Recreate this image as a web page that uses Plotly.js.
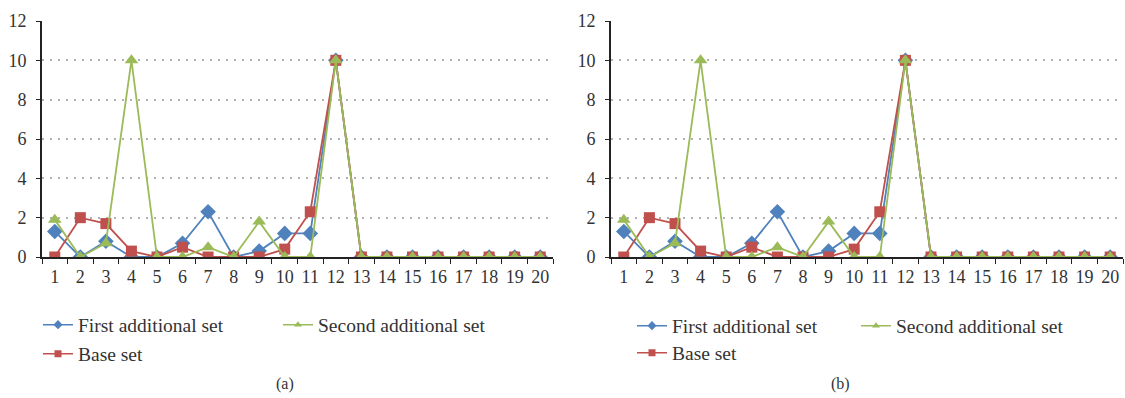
<!DOCTYPE html>
<html>
<head>
<meta charset="utf-8">
<script src="https://cdn.plot.ly/plotly-3.0.1.min.js"></script>
<style>html,body{margin:0;padding:0;background:#fff;}#chart{width:1125px;height:398px;}</style>
</head>
<body>
<div id="chart"></div>
<script>
const categories = ['1','2','3','4','5','6','7','8','9','10','11','12','13','14','15','16','17','18','19','20'];
const seriesNames = ['First additional set', 'Second additional set', 'Base set'];

// Panel (a)
const firstA  = [1.3, 0, 0.8, 0, 0, 0.7, 2.3, 0, 0.3, 1.2, 1.2, 10, 0, 0, 0, 0, 0, 0, 0, 0];
const secondA = [1.9, 0, 0.7, 10, 0, 0, 0.5, 0, 1.8, 0, 0, 10, 0, 0, 0, 0, 0, 0, 0, 0];
const baseA   = [0, 2.0, 1.7, 0.3, 0, 0.5, 0, 0, 0, 0.4, 2.3, 10, 0, 0, 0, 0, 0, 0, 0, 0];

// Panel (b)
const firstB  = [1.3, 0, 0.8, 0, 0, 0.7, 2.3, 0, 0.3, 1.2, 1.2, 10, 0, 0, 0, 0, 0, 0, 0, 0];
const secondB = [1.9, 0, 0.7, 10, 0, 0, 0.5, 0, 1.8, 0, 0, 10, 0, 0, 0, 0, 0, 0, 0, 0];
const baseB   = [0, 2.0, 1.7, 0.3, 0, 0.5, 0, 0, 0, 0.4, 2.3, 10, 0, 0, 0, 0, 0, 0, 0, 0];

const panelLabels = ['(a)', '(b)'];
const yTicks = [0, 2, 4, 6, 8, 10, 12];

const W = 1125, H = 398;
const COL = {first: '#4F81BD', base: '#C0504D', second: '#9BBB59'};
const serif = '"Liberation Serif", "Times New Roman", serif';

function mk(x, y, name, color, symbol, xa, ya, size) {
  return {
    x: x, y: y, name: name, type: 'scatter', mode: 'lines+markers',
    xaxis: xa, yaxis: ya, showlegend: false,
    line: {color: color, width: 1.8},
    marker: {color: color, symbol: symbol, size: size, line: {width: 0}}
  };
}
// legend-only entries (small markers, as in the reference legend)
function lgEntry(name, color, symbol, xa, ya, legend) {
  return {
    x: [null], y: [null], name: name, type: 'scatter', mode: 'lines+markers',
    xaxis: xa, yaxis: ya, legend: legend, showlegend: true,
    line: {color: color, width: 1.5},
    marker: {color: color, symbol: symbol, size: 7, line: {width: 0}}
  };
}

const traces = [
  mk(categories, firstA, seriesNames[0], COL.first, 'diamond', 'x', 'y', 12),
  mk(categories, baseA, seriesNames[2], COL.base, 'square', 'x', 'y', 11),
  mk(categories, secondA, seriesNames[1], COL.second, 'triangle-up', 'x', 'y', 12),
  mk(categories, firstB, seriesNames[0], COL.first, 'diamond', 'x2', 'y2', 12),
  mk(categories, baseB, seriesNames[2], COL.base, 'square', 'x2', 'y2', 11),
  mk(categories, secondB, seriesNames[1], COL.second, 'triangle-up', 'x2', 'y2', 12),
  lgEntry(seriesNames[0], COL.first, 'diamond', 'x', 'y', 'legend'),
  lgEntry(seriesNames[1], COL.second, 'triangle-up', 'x', 'y', 'legend2'),
  lgEntry(seriesNames[2], COL.base, 'square', 'x', 'y', 'legend3'),
  lgEntry(seriesNames[0], COL.first, 'diamond', 'x2', 'y2', 'legend4'),
  lgEntry(seriesNames[1], COL.second, 'triangle-up', 'x2', 'y2', 'legend5'),
  lgEntry(seriesNames[2], COL.base, 'square', 'x2', 'y2', 'legend6')
];

function xax(d0, d1, anchor) {
  return {
    domain: [d0 / W, d1 / W], anchor: anchor, type: 'category',
    categoryorder: 'array', categoryarray: categories,
    range: [-0.5, 19.5], autorange: false,
    tickson: 'boundaries', ticks: 'outside', ticklen: 5, tickcolor: '#222',
    tickangle: 0, ticklabelstandoff: 2,
    showline: true, linecolor: '#222', linewidth: 2,
    showgrid: false, zeroline: false,
    tickfont: {family: serif, size: 18, color: '#333'},
    fixedrange: true
  };
}
function yax(anchor) {
  return {
    domain: [(H - 257) / H, (H - 21) / H], anchor: anchor,
    range: [0, 12], autorange: false, tickvals: yTicks, ticktext: yTicks.map(String),
    ticks: 'outside', ticklen: 4, tickcolor: '#222', ticklabelstandoff: 6,
    showline: true, linecolor: '#222', linewidth: 2,
    showgrid: true, gridcolor: '#b0b0b0', griddash: '2px,6px', gridwidth: 2,
    zeroline: false,
    tickfont: {family: serif, size: 18, color: '#333'},
    fixedrange: true
  };
}

function lg(px, py) {
  return {
    x: px / W, y: 1 - py / H, xanchor: 'left', yanchor: 'middle',
    bgcolor: 'rgba(0,0,0,0)', borderwidth: 0,
    font: {family: serif, size: 19.5, color: '#333'},
    itemsizing: 'trace', itemwidth: 30
  };
}

const layout = {
  width: W, height: H,
  margin: {l: 0, r: 0, t: 0, b: 0},
  paper_bgcolor: '#fff', plot_bgcolor: '#fff',
  xaxis: xax(42, 553, 'y'),
  yaxis: yax('x'),
  xaxis2: xax(611, 1123, 'y2'),
  yaxis2: yax('x2'),
  legend: lg(38, 325),
  legend2: lg(278, 325),
  legend3: lg(38, 354),
  legend4: lg(632, 326),
  legend5: lg(856, 326),
  legend6: lg(632, 353),
  annotations: [
    {text: panelLabels[0], x: 285 / W, y: 1 - 384 / H, xref: 'paper', yref: 'paper', showarrow: false,
     xanchor: 'center', yanchor: 'middle', font: {family: serif, size: 16, color: '#333'}},
    {text: panelLabels[1], x: 840 / W, y: 1 - 384 / H, xref: 'paper', yref: 'paper', showarrow: false,
     xanchor: 'center', yanchor: 'middle', font: {family: serif, size: 16, color: '#333'}}
  ],
  showlegend: true
};

Plotly.newPlot('chart', traces, layout, {staticPlot: true, displayModeBar: false});
</script>
</body>
</html>
